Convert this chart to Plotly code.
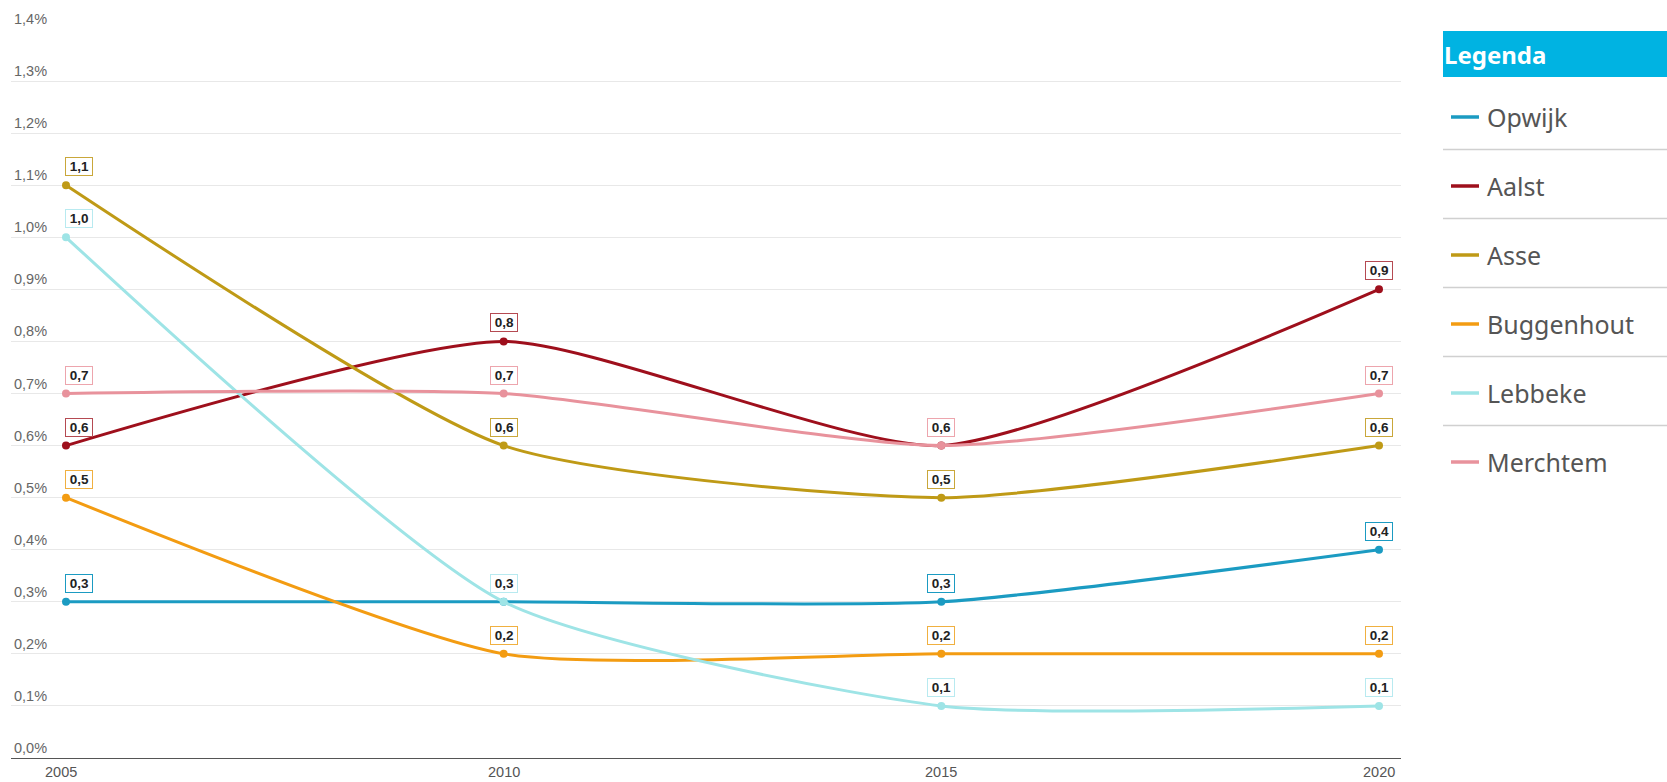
import plotly.graph_objects as go

years = [2005, 2010, 2015, 2020]
series_names = ["Opwijk", "Aalst", "Asse", "Buggenhout", "Lebbeke", "Merchtem"]
opwijk = [0.3, 0.3, 0.3, 0.4]
aalst = [0.6, 0.8, 0.6, 0.9]
asse = [1.1, 0.6, 0.5, 0.6]
buggenhout = [0.5, 0.2, 0.2, 0.2]
lebbeke = [1.0, 0.3, 0.1, 0.1]
merchtem = [0.7, 0.7, 0.6, 0.7]
series_values = [opwijk, aalst, asse, buggenhout, lebbeke, merchtem]
colors = ["#1b9bc2", "#9e0f1c", "#bf9a16", "#f39c12", "#9ee4e6", "#e8929c"]
label_borders = ["#1b9bc2", "#b54a52", "#c9a73a", "#f0b040", "#b8eaf0", "#eda5ad"]
y_ticks = [0.0, 0.1, 0.2, 0.3, 0.4, 0.5, 0.6, 0.7, 0.8, 0.9, 1.0, 1.1, 1.2, 1.3, 1.4]
y_tick_labels = ["0,0%", "0,1%", "0,2%", "0,3%", "0,4%", "0,5%", "0,6%", "0,7%",
                 "0,8%", "0,9%", "1,0%", "1,1%", "1,2%", "1,3%", "1,4%"]
x_tick_labels = ["2005", "2010", "2015", "2020"]
legend_title = "Legenda"

W, H = 1667, 782
PL, PR, PT, PB = 11, 1401, 29, 758  # plot area in page px
ML, MR, MT, MB = PL, W - PR, PT, H - PB
PW = PR - PL
PH = PB - PT


def px2x(px):
    return (px - PL) / PW


def py2y(py):
    return (PB - py) / PH


fig = go.Figure()
annotations = []
shapes = []

for name, vals, col, bcol in zip(series_names, series_values, colors, label_borders):
    fig.add_trace(go.Scatter(
        x=years, y=vals, name=name, mode="lines+markers",
        line=dict(color=col, width=3, shape="spline", smoothing=0.6),
        marker=dict(color=col, size=8),
        showlegend=False, hoverinfo="skip",
    ))
    for i, (xv, yv) in enumerate(zip(years, vals)):
        annotations.append(dict(
            x=xv, y=yv, xref="x", yref="y",
            text="<b>&#8201;" + ("%.1f" % yv).replace(".", ",") + "&#8201;</b>",
            showarrow=False, xanchor="left" if i == 0 else "center",
            yanchor="bottom", yshift=9, xshift=-1 if i == 0 else 0,
            font=dict(family="Liberation Sans, Arial", size=13.5, color="#222"),
            bgcolor="white", bordercolor=bcol, borderwidth=1, borderpad=1,
        ))

# y tick labels above gridlines
for v, t in zip(y_ticks, y_tick_labels):
    annotations.append(dict(
        x=0, xref="paper", y=v, yref="y", text=t, showarrow=False,
        xanchor="left", yanchor="bottom", xshift=1, yshift=0,
        font=dict(family="Liberation Sans, Arial", size=14.5, color="#666"),
    ))

# x tick labels
for i, (xv, t) in enumerate(zip(years, x_tick_labels)):
    annotations.append(dict(
        x=xv, xref="x", y=0, yref="paper", text=t, showarrow=False,
        xanchor="center", yanchor="top", yshift=-4, xshift=-5 if i == 0 else 0,
        font=dict(family="Liberation Sans, Arial", size=14.5, color="#555"),
    ))

# Legend panel
shapes.append(dict(type="rect", xref="paper", yref="paper",
                   x0=px2x(1443), x1=px2x(1670), y0=py2y(77), y1=py2y(31),
                   fillcolor="#00b3e2", line=dict(width=0), layer="above"))
annotations.append(dict(x=px2x(1442), y=py2y(54), xref="paper", yref="paper",
                        text="<b>" + legend_title + "</b>", showarrow=False,
                        xanchor="left", yanchor="middle",
                        font=dict(family="Noto Sans", size=24, color="white")))
row0, step = 117, 69.0
for k, (name, col) in enumerate(zip(series_names, colors)):
    cy = row0 + k * step
    shapes.append(dict(type="line", xref="paper", yref="paper",
                       x0=px2x(1451), x1=px2x(1479), y0=py2y(cy), y1=py2y(cy),
                       line=dict(color=col, width=3.5)))
    annotations.append(dict(x=px2x(1485), y=py2y(cy), xref="paper", yref="paper",
                            text=name, showarrow=False, xanchor="left", yanchor="middle",
                            font=dict(family="Noto Sans", size=25, color="#555")))
    if k < len(series_names) - 1:
        sy = cy + 32.5
        shapes.append(dict(type="line", xref="paper", yref="paper",
                           x0=px2x(1443), x1=px2x(1670), y0=py2y(sy), y1=py2y(sy),
                           line=dict(color="#d0d0d0", width=1.5)))

fig.update_layout(
    width=W, height=H, autosize=False,
    margin=dict(l=ML, r=MR, t=MT, b=MB),
    paper_bgcolor="white", plot_bgcolor="white",
    annotations=annotations, shapes=shapes,
    xaxis=dict(range=[2005 - (5 * 55 / (1379 - 66) * 3), 2020 + (5 * 22 / (1379 - 66) * 3)],
               tickvals=years, showticklabels=False,
               showgrid=False, zeroline=False, showline=True, linecolor="#555",
               linewidth=1, ticks=""),
    yaxis=dict(range=[0, 1.4], tickvals=y_ticks, showticklabels=False,
               showgrid=True, gridcolor="#e8e8e8", gridwidth=1, zeroline=False),
)

fig.write_html("out.html", config={"displayModeBar": False},
               post_script="document.body.style.margin='0';document.body.style.overflow='hidden';")
